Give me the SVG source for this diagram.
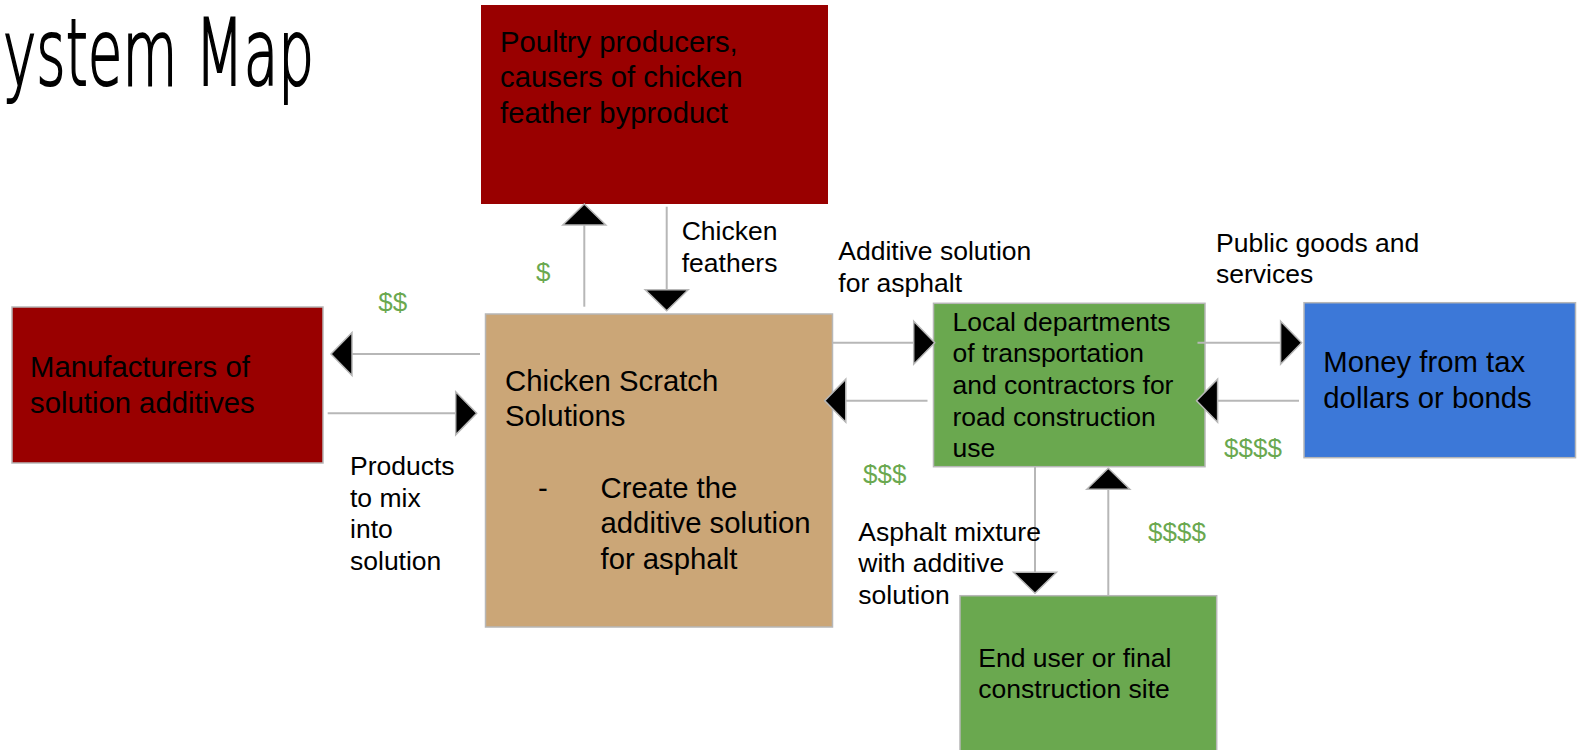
<svg xmlns="http://www.w3.org/2000/svg" width="1579" height="750" viewBox="0 0 1579 750">
<style>
  .box { stroke: #b7b7b7; stroke-width: 1.5; }
  .red { fill: #990000; }
  .tan { fill: #cba677; }
  .green { fill: #6aa84f; }
  .blue { fill: #3c78d8; }
  .t { font-family: "Liberation Sans", Arial, sans-serif; fill: #000; }
  .big { font-size: 29.3px; }
  .mid { font-size: 26.5px; }
  .money { font-family: "Liberation Sans", Arial, sans-serif; font-size: 26px; fill: #6aa84f; }
  .conn { stroke: #b7b7b7; stroke-width: 2; fill: none; marker-end: url(#ah); }
  .title { font-family: "DejaVu Sans", sans-serif; font-size: 93px; fill: #000; stroke: #000; stroke-width: 2.2; font-weight: 200; }
</style>
<defs>
  <marker id="ah" markerUnits="userSpaceOnUse" markerWidth="26" markerHeight="48" refX="21" refY="21.5" orient="auto" viewBox="-2 -2 26 48" overflow="visible">
    <path d="M0,0 L21,21.5 L0,43 Z" fill="#000" stroke="#b7b7b7" stroke-width="1.5" stroke-linejoin="miter"/>
  </marker>
</defs>
<rect width="1579" height="750" fill="#fff"/>

<text class="title" x="3" y="85" textLength="311" lengthAdjust="spacingAndGlyphs">ystem Map</text>

<g id="poultry">
  <rect class="red" x="481" y="5" width="347" height="199"/>
  <text class="t big" x="500" y="51.7">Poultry producers,</text>
  <text class="t big" x="500" y="87.3">causers of chicken</text>
  <text class="t big" x="500" y="122.7">feather byproduct</text>
</g>

<g id="manufacturers">
  <rect class="box red" x="12" y="307" width="311" height="156"/>
  <text class="t big" x="30" y="377">Manufacturers of</text>
  <text class="t big" x="30" y="413">solution additives</text>
</g>

<g id="chicken-scratch">
  <rect class="box tan" x="485.5" y="314" width="347" height="313"/>
  <text class="t big" x="505" y="391">Chicken Scratch</text>
  <text class="t big" x="505" y="426">Solutions</text>
  <text class="t big" x="538" y="498">-</text>
  <text class="t big" x="600.5" y="498">Create the</text>
  <text class="t big" x="600.5" y="533">additive solution</text>
  <text class="t big" x="600.5" y="569">for asphalt</text>
</g>

<g id="local-departments">
  <rect class="box green" x="933.5" y="303.3" width="271.5" height="163.4"/>
  <text class="t mid" x="952.5" y="330.7">Local departments</text>
  <text class="t mid" x="952.5" y="362.3">of transportation</text>
  <text class="t mid" x="952.5" y="394">and contractors for</text>
  <text class="t mid" x="952.5" y="426">road construction</text>
  <text class="t mid" x="952.5" y="456.7">use</text>
</g>

<g id="money">
  <rect class="box blue" x="1304" y="302.7" width="271.5" height="155"/>
  <text class="t big" x="1323.3" y="371.7">Money from tax</text>
  <text class="t big" x="1323.3" y="408">dollars or bonds</text>
</g>

<g id="end-user">
  <rect class="box green" x="960" y="595.7" width="256.7" height="160"/>
  <text class="t mid" x="978.3" y="666.7">End user or final</text>
  <text class="t mid" x="978.3" y="698.3">construction site</text>
</g>

<g id="connectors">
  <line class="conn" x1="480" y1="354" x2="331" y2="354"/>
  <line class="conn" x1="327.7" y1="413.3" x2="476.7" y2="413.3"/>
  <line class="conn" x1="584.3" y1="306.7" x2="584.3" y2="204"/>
  <line class="conn" x1="666.7" y1="206.7" x2="666.7" y2="310.7"/>
  <line class="conn" x1="832" y1="342.7" x2="934.7" y2="342.7"/>
  <line class="conn" x1="927.5" y1="400.7" x2="824.8" y2="400.7"/>
  <line class="conn" x1="1197.5" y1="342.7" x2="1301.6" y2="342.7"/>
  <line class="conn" x1="1299" y1="400.7" x2="1196.6" y2="400.7"/>
  <line class="conn" x1="1035" y1="467" x2="1035" y2="593.3"/>
  <line class="conn" x1="1108.3" y1="595" x2="1108.3" y2="468.3"/>

  <text class="money" x="378.3" y="310.7">$$</text>
  <text class="money" x="536" y="280.7">$</text>
  <text class="t mid" x="681.7" y="240">Chicken</text>
  <text class="t mid" x="681.7" y="271.7">feathers</text>
  <text class="t mid" x="350" y="475">Products</text>
  <text class="t mid" x="350" y="506.7">to mix</text>
  <text class="t mid" x="350" y="538.3">into</text>
  <text class="t mid" x="350" y="570">solution</text>
  <text class="t mid" x="838.3" y="260">Additive solution</text>
  <text class="t mid" x="838.3" y="291.7">for asphalt</text>
  <text class="money" x="863" y="483">$$$</text>
  <text class="t mid" x="1216" y="251.7">Public goods and</text>
  <text class="t mid" x="1216" y="282.7">services</text>
  <text class="money" x="1224" y="456.7">$$$$</text>
  <text class="t mid" x="858.3" y="540.7">Asphalt mixture</text>
  <text class="t mid" x="858.3" y="571.7">with additive</text>
  <text class="t mid" x="858.3" y="604">solution</text>
  <text class="money" x="1148" y="540.7">$$$$</text>
</g>
</svg>
